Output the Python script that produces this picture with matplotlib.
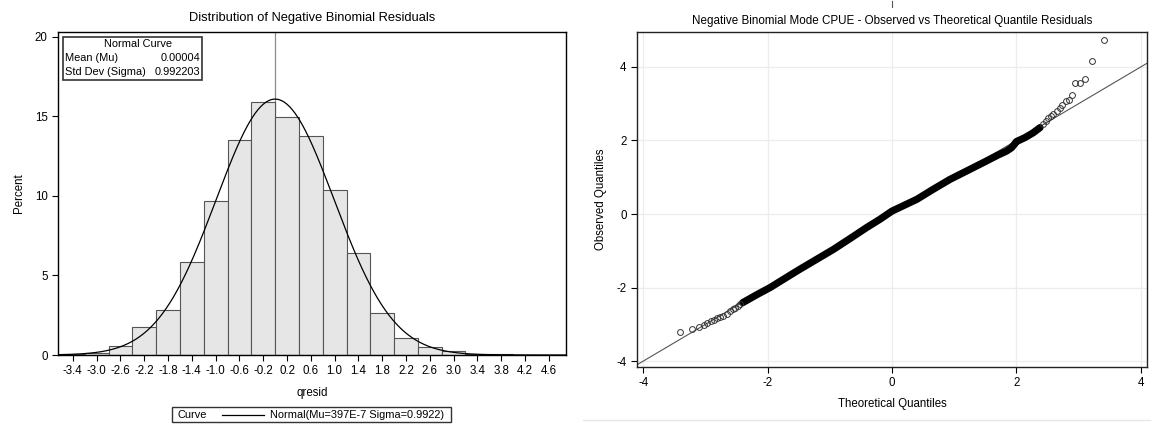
import numpy as np
import matplotlib
matplotlib.use("Agg")
import matplotlib.pyplot as plt
from matplotlib.patches import Rectangle
from matplotlib.lines import Line2D

plt.rcParams['font.family'] = ['Liberation Sans', 'DejaVu Sans']
plt.rcParams['axes.unicode_minus'] = False

# histogram of quantile residuals (bin midpoints, percent)
bin_mids = [-3.4, -3.0, -2.6, -2.2, -1.8, -1.4, -1.0, -0.6, -0.2, 0.2, 0.6,
            1.0, 1.4, 1.8, 2.2, 2.6, 3.0, 3.4, 3.8, 4.2, 4.6]
bin_pct = [0.05, 0.15, 0.57, 1.74, 2.83, 5.83, 9.69, 13.52, 15.87, 14.95, 13.77,
           10.38, 6.43, 2.62, 1.07, 0.48, 0.23, 0.05, 0.08, 0.0, 0.0]
bin_width = 0.4
mu = 0.00004
sigma = 0.992203

# QQ plot: tails as single points, dense middle band read along its centre
tq_low = [-3.41, -3.22, -3.11, -3.03, -2.97, -2.91, -2.86, -2.82, -2.76, -2.71,
          -2.66, -2.60, -2.55, -2.52, -2.48, -2.44]
oq_low = [-3.20, -3.14, -3.07, -3.02, -2.96, -2.91, -2.87, -2.84, -2.80, -2.78,
          -2.71, -2.64, -2.59, -2.55, -2.50, -2.46]
tq_high = [2.43, 2.47, 2.51, 2.55, 2.59, 2.65, 2.70, 2.74, 2.80, 2.84, 2.89,
           2.95, 3.02, 3.10, 3.22, 3.41]
oq_high = [2.44, 2.53, 2.60, 2.67, 2.73, 2.80, 2.89, 2.97, 3.07, 3.10, 3.24,
           3.55, 3.55, 3.68, 4.16, 4.73]
band_tq = [-2.40, -2.17, -1.96, -1.75, -1.50, -1.20, -0.94, -0.65, -0.41, -0.20,
           0.00, 0.20, 0.40, 0.65, 0.93, 1.20, 1.47, 1.70, 1.84, 1.92, 1.97,
           2.00, 2.14, 2.27, 2.38]
band_oq = [-2.41, -2.19, -2.00, -1.78, -1.52, -1.22, -0.96, -0.64, -0.37, -0.15,
           0.08, 0.24, 0.40, 0.66, 0.94, 1.17, 1.40, 1.60, 1.71, 1.80, 1.90,
           1.97, 2.08, 2.21, 2.35]

fig = plt.figure(figsize=(11.55, 4.25), dpi=100)

# ---- left: histogram ----
ax1 = fig.add_axes([58 / 1155, 1 - 355 / 425, 508 / 1155, 323 / 425])
ax1.bar(bin_mids, bin_pct, width=bin_width, color='#e6e6e6',
        edgecolor='#555555', linewidth=0.8, zorder=2)
xs = np.linspace(-3.65, 4.89, 400)
pdf = 100 * bin_width * np.exp(-0.5 * ((xs - mu) / sigma) ** 2) / (sigma * np.sqrt(2 * np.pi))
ax1.plot(xs, pdf, color='black', lw=0.9, zorder=3)
ax1.axvline(0, color='#8c8c8c', lw=0.9, zorder=1)
ax1.set_xlim(-3.65, 4.89)
ax1.set_ylim(0, 20.3)
ax1.set_xticks(bin_mids)
ax1.set_xticklabels([f"{v:.1f}" for v in bin_mids])
ax1.set_yticks([0, 5, 10, 15, 20])
ax1.tick_params(labelsize=8.3, length=4, width=0.8, direction='out')
for s in ax1.spines.values():
    s.set_linewidth(1.0)
ax1.set_xlabel("qresid", fontsize=8.3, labelpad=7)
ax1.set_ylabel("Percent", fontsize=8.3, labelpad=7)
ax1.set_title("Distribution of Negative Binomial Residuals", fontsize=9.3, pad=8)

# inset statistics box
ax1.add_patch(Rectangle((5 / 508, 1 - 48 / 323), 139 / 508, 43 / 323,
                        transform=ax1.transAxes, fill=False, lw=1.2,
                        edgecolor='#333333', zorder=5))
ax1.text(80 / 508, 1 - 12 / 323, "Normal Curve", transform=ax1.transAxes,
         ha='center', va='center', fontsize=7.9)
ax1.text(7 / 508, 1 - 26 / 323, "Mean (Mu)", transform=ax1.transAxes,
         ha='left', va='center', fontsize=7.9)
ax1.text(142 / 508, 1 - 26 / 323, f"{mu:.5f}", transform=ax1.transAxes,
         ha='right', va='center', fontsize=7.9)
ax1.text(7 / 508, 1 - 40 / 323, "Std Dev (Sigma)", transform=ax1.transAxes,
         ha='left', va='center', fontsize=7.9)
ax1.text(142 / 508, 1 - 40 / 323, f"{sigma:.6f}", transform=ax1.transAxes,
         ha='right', va='center', fontsize=7.9)

# bottom legend
fig.patches.append(Rectangle((172 / 1155, 1 - 422 / 425), 279 / 1155, 15 / 425,
                             transform=fig.transFigure, fill=False, lw=1.0,
                             edgecolor='#333333'))
fig.text(177 / 1155, 1 - 414.5 / 425, "Curve", ha='left', va='center', fontsize=7.9)
fig.lines.append(Line2D([222 / 1155, 264 / 1155], [1 - 414.5 / 425] * 2,
                        transform=fig.transFigure, color='black', lw=0.9))
fig.text(270 / 1155, 1 - 414.5 / 425, "Normal(Mu=397E-7 Sigma=0.9922)",
         ha='left', va='center', fontsize=7.9)

# ---- right: QQ plot ----
ax2 = fig.add_axes([637 / 1155, 1 - 367 / 425, 510 / 1155, 335 / 425])
ax2.grid(True, color='#ececec', lw=0.9, zorder=0)
ax2.set_axisbelow(True)
ax2.axline((0, 0), slope=1, color='#555555', lw=0.8, zorder=2)
ax2.plot(band_tq, band_oq, color='black', lw=5.2, solid_capstyle='round', zorder=3)
mk = dict(ls='none', marker='o', ms=4.2, mfc='none', mec='#333333', mew=0.7, zorder=4)
ax2.plot(tq_low, oq_low, **mk)
ax2.plot(tq_high, oq_high, **mk)
ax2.set_xlim(-4.1, 4.1)
ax2.set_ylim(-4.16, 4.95)
ax2.set_xticks([-4, -2, 0, 2, 4])
ax2.set_yticks([-4, -2, 0, 2, 4])
ax2.tick_params(labelsize=8.3, length=4, width=0.8, direction='out')
for s in ax2.spines.values():
    s.set_linewidth(1.0)
    s.set_color('#222222')
ax2.set_xlabel("Theoretical Quantiles", fontsize=8.3, labelpad=6)
ax2.set_ylabel("Observed Quantiles", fontsize=8.3, labelpad=7)
ax2.set_title("Negative Binomial Mode CPUE - Observed vs Theoretical Quantile Residuals",
              fontsize=8.4, pad=6)

fig.lines.append(Line2D([583 / 1155, 1150 / 1155], [1 - 419.5 / 425] * 2,
                        transform=fig.transFigure, color='#e6e6e6', lw=1.0))
fig.lines.append(Line2D([892 / 1155, 892 / 1155], [1 - 1 / 425, 1 - 7 / 425],
                        transform=fig.transFigure, color='#555555', lw=0.8))

fig.savefig("out.png", dpi=100, facecolor='white')
